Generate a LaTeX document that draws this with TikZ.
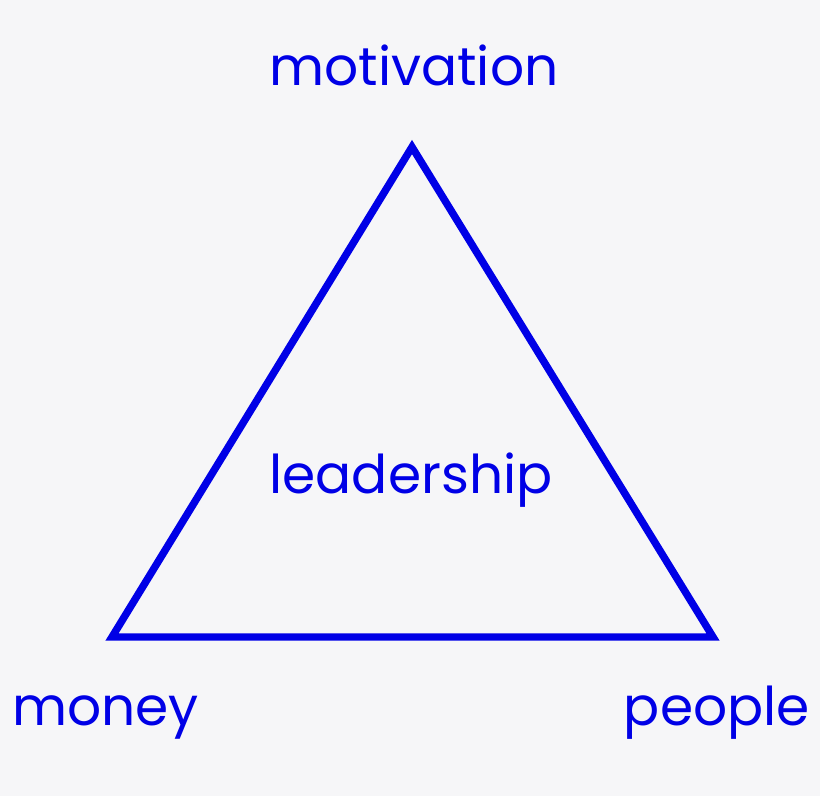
\documentclass[tikz,border=0pt]{standalone}
\usepackage{fontspec}
\setmainfont{Poppins}
\usepackage{xcolor}
\definecolor{triblue}{RGB}{0,0,230}
\definecolor{paper}{RGB}{246,246,248}

\begin{document}
\begin{tikzpicture}[x=0.025cm, y=-0.025cm]
      \tikzset{word/.style={text=triblue, font=\fontsize{38}{44}\selectfont, inner sep=0pt}}
      \fill[paper] (0,0) rectangle (820,796);
      \useasboundingbox (0,0) rectangle (820,796);
      \coordinate (top) at (412,147);
      \coordinate (left) at (112,637);
      \coordinate (right) at (713,637);
      \draw[triblue, line width=5.3pt, line join=miter] (top) -- (left) -- (right) -- cycle;
      \node[word, anchor=base] (motivation) at (414,85) {motivation};
      \node[word, anchor=base] (leadership) at (411,493) {leadership};
      \node[word, anchor=base west] (money) at (12,725) {money};
      \node[word, anchor=base east] (people) at (810,725) {people};
    \end{tikzpicture}
\end{document}
